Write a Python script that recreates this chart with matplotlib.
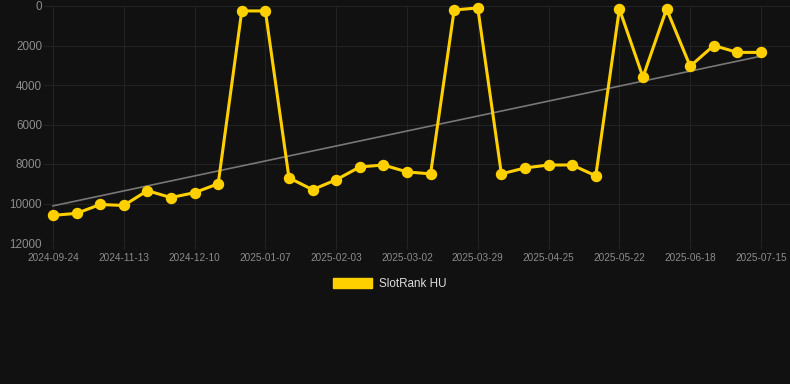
import matplotlib
matplotlib.use("Agg")
import matplotlib.pyplot as plt
from matplotlib.patches import Patch

# rank per snapshot (lower = better)
rank = [10600, 10500, 10050, 10100, 9350, 9700, 9450, 9000, 250, 250,
        8700, 9300, 8800, 8150, 8050, 8400, 8500, 200, 100, 8500,
        8200, 8050, 8050, 8600, 150, 3600, 150, 3050, 2000, 2350, 2350]
trend = [10120, 2540]  # trend line at first and last point
tick_labels = ['2024-09-24', '2024-11-13', '2024-12-10', '2025-01-07', '2025-02-03',
               '2025-03-02', '2025-03-29', '2025-04-25', '2025-05-22', '2025-06-18',
               '2025-07-15']
y_ticks = [0, 2000, 4000, 6000, 8000, 10000, 12000]
series_name = 'SlotRank HU'

bg = '#111111'
grid_col = '#232323'
text_col = '#8c8c8c'
gold = '#FFD000'

plt.rcParams['font.family'] = ['Liberation Sans', 'DejaVu Sans']

fig = plt.figure(figsize=(7.9, 3.84), dpi=100, facecolor=bg)
W, H = 790, 384
ax = fig.add_axes([44 / W, 1 - 243 / H, (790 - 44) / W, (243 - 6) / H])
ax.set_facecolor(bg)

xs = list(range(len(rank)))
ax.plot([xs[0], xs[-1]], trend, color='#777777', linewidth=1.2, zorder=2)
ax.plot(xs, rank, color=gold, linewidth=2.2, marker='o', markersize=7.2,
        zorder=3, clip_on=False)

ax.set_ylim(12000, 0)
ax.set_xlim(-0.38, 31.23)
ax.set_yticks(y_ticks)
ax.set_yticklabels([str(v) for v in y_ticks])
ax.set_xticks(xs[::3])
ax.set_xticklabels(tick_labels)

ax.grid(True, color=grid_col, linewidth=0.8)
for s in ax.spines.values():
    s.set_visible(False)

ax.tick_params(axis='y', length=0, pad=1.5, labelsize=8.4, labelcolor=text_col)
ax.tick_params(axis='x', length=4, width=0.8, color=grid_col, pad=3.5,
               labelsize=7.2, labelcolor=text_col)

handle = Patch(facecolor=gold, edgecolor=gold)
fig.legend([handle], [series_name], loc='center', bbox_to_anchor=(389.5 / W, 1 - 284 / H),
           frameon=False, fontsize=8.4, labelcolor='#dddddd', handlelength=3.4,
           handleheight=0.95, handletextpad=0.55, borderpad=0)

fig.savefig('out.png', dpi=100, facecolor=bg)
